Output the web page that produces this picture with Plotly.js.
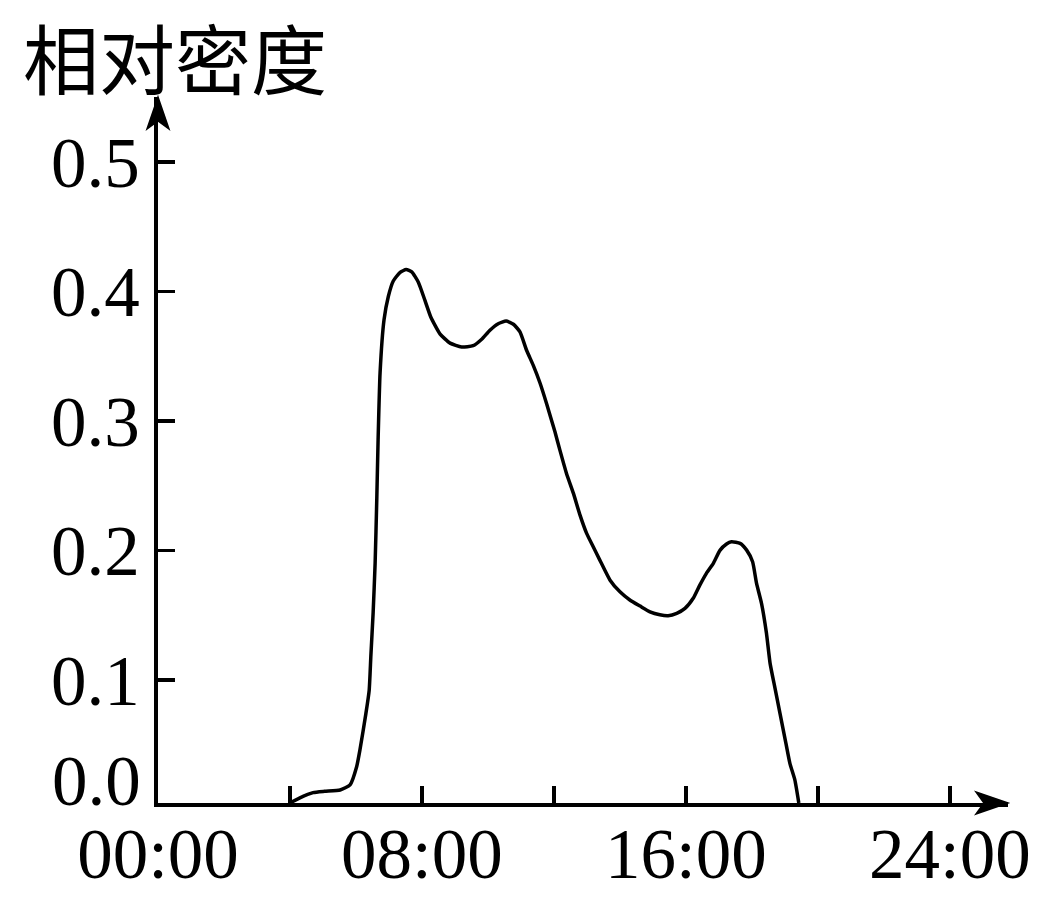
<!DOCTYPE html>
<html>
<head>
<meta charset="utf-8">
<script src="https://cdn.plot.ly/plotly-3.0.1.min.js"></script>
<style>html,body{margin:0;padding:0;background:#fff;}#chart{width:1050px;height:908px;}</style>
</head>
<body>
<div id="chart"></div>
<script>
// Time of day (hours) and relative density
const hours = [4.00, 4.30, 4.70, 5.05, 5.52, 5.82, 6.02, 6.12, 6.30, 6.40, 6.45, 6.52, 6.58, 6.63, 6.67, 6.73, 6.85, 6.98, 7.13, 7.33, 7.52, 7.69, 7.89, 8.09, 8.27, 8.55, 8.85, 9.20, 9.55, 9.81, 10.06, 10.31, 10.55, 10.77, 10.97, 11.17, 11.37, 11.58, 11.78, 12.03, 12.18, 12.38, 12.59, 12.79, 12.99, 13.19, 13.39, 13.70, 14.00, 14.30, 14.61, 14.91, 15.21, 15.46, 15.72, 15.97, 16.22, 16.42, 16.62, 16.83, 17.03, 17.23, 17.38, 17.64, 17.84, 18.02, 18.14, 18.29, 18.44, 18.55, 18.70, 18.85, 19.03, 19.15, 19.30, 19.42];
const density = [0.005, 0.009, 0.013, 0.014, 0.015, 0.019, 0.033, 0.046, 0.074, 0.092, 0.118, 0.152, 0.190, 0.239, 0.285, 0.337, 0.378, 0.396, 0.408, 0.4145, 0.4168, 0.415, 0.407, 0.393, 0.380, 0.367, 0.360, 0.357, 0.358, 0.363, 0.370, 0.375, 0.377, 0.3746, 0.3687, 0.3545, 0.343, 0.329, 0.313, 0.2915, 0.2774, 0.2594, 0.244, 0.2272, 0.2131, 0.2028, 0.1925, 0.177, 0.168, 0.1617, 0.157, 0.1526, 0.1503, 0.1496, 0.1514, 0.1552, 0.163, 0.1732, 0.1823, 0.190, 0.200, 0.2049, 0.2066, 0.2054, 0.2002, 0.1912, 0.1745, 0.1591, 0.136, 0.1128, 0.0935, 0.0742, 0.051, 0.0356, 0.0228, 0.005];

const xTickVals = [0, 4, 8, 12, 16, 20, 24];
const xTickText = ['00:00', '', '08:00', '', '16:00', '', '24:00'];
const yTickVals = [0.1, 0.2, 0.3, 0.4, 0.5];
const yTickText = ['0.1', '0.2', '0.3', '0.4', '0.5'];
const yZeroText = '0.0';
const yTitle = '相对密度';

const xMax = 25.76;
const yMin = 0.005;
const yMax = 0.55;

const serif = 'Liberation Serif, Times New Roman, serif';
const tickFont = {family: serif, size: 71, color: '#000'};

const trace = {
  x: hours, y: density, type: 'scatter', mode: 'lines',
  line: {color: '#000', width: 3.5, shape: 'spline', smoothing: 0.5}, hoverinfo: 'skip'
};

const layout = {
  width: 1050, height: 908,
  margin: {l: 158, r: 42, t: 97, b: 105},
  paper_bgcolor: '#fff', plot_bgcolor: '#fff',
  showlegend: false,
  xaxis: {
    range: [0, xMax], showgrid: false, zeroline: false,
    showline: true, linecolor: '#000', linewidth: 4,
    tickmode: 'array', tickvals: xTickVals, ticktext: xTickText,
    ticks: 'inside', ticklen: 17, tickwidth: 3.5, tickcolor: '#000',
    ticklabelstandoff: -14,
    tickfont: tickFont, fixedrange: true
  },
  yaxis: {
    range: [yMin, yMax], showgrid: false, zeroline: false,
    showline: true, linecolor: '#000', linewidth: 4,
    tickmode: 'array', tickvals: yTickVals, ticktext: yTickText,
    ticks: 'inside', ticklen: 17, tickwidth: 3.5, tickcolor: '#000',
    ticklabelstandoff: 0,
    tickfont: tickFont, fixedrange: true
  },
  shapes: [
    {type: 'path', xref: 'paper', yref: 'paper', xsizemode: 'pixel', ysizemode: 'pixel',
     xanchor: 1, yanchor: 0,
     path: 'M0,0 L-32,11 L-24,0 L-32,-11 Z',
     fillcolor: '#000', line: {color: '#000', width: 1.5}},
    {type: 'path', xref: 'paper', yref: 'paper', xsizemode: 'pixel', ysizemode: 'pixel',
     xanchor: 0, yanchor: 1,
     path: 'M0,0 L-11,-32 L0,-24 L11,-32 Z',
     fillcolor: '#000', line: {color: '#000', width: 1.5}}
  ],
  annotations: [
    {text: yZeroText, xref: 'x', yref: 'paper', x: 0, y: 0,
     xanchor: 'right', yanchor: 'bottom', xshift: -15, yshift: -19,
     showarrow: false, font: tickFont},
    {text: yTitle, xref: 'x', yref: 'paper', x: 0, y: 1,
     xanchor: 'left', yanchor: 'top', xshift: -136, yshift: 97,
     showarrow: false, borderpad: 0,
     font: {family: 'Noto Sans CJK SC, sans-serif', size: 76, color: '#000'}}
  ]
};

Plotly.newPlot('chart', [trace], layout, {displayModeBar: false, staticPlot: true});
</script>
</body>
</html>
